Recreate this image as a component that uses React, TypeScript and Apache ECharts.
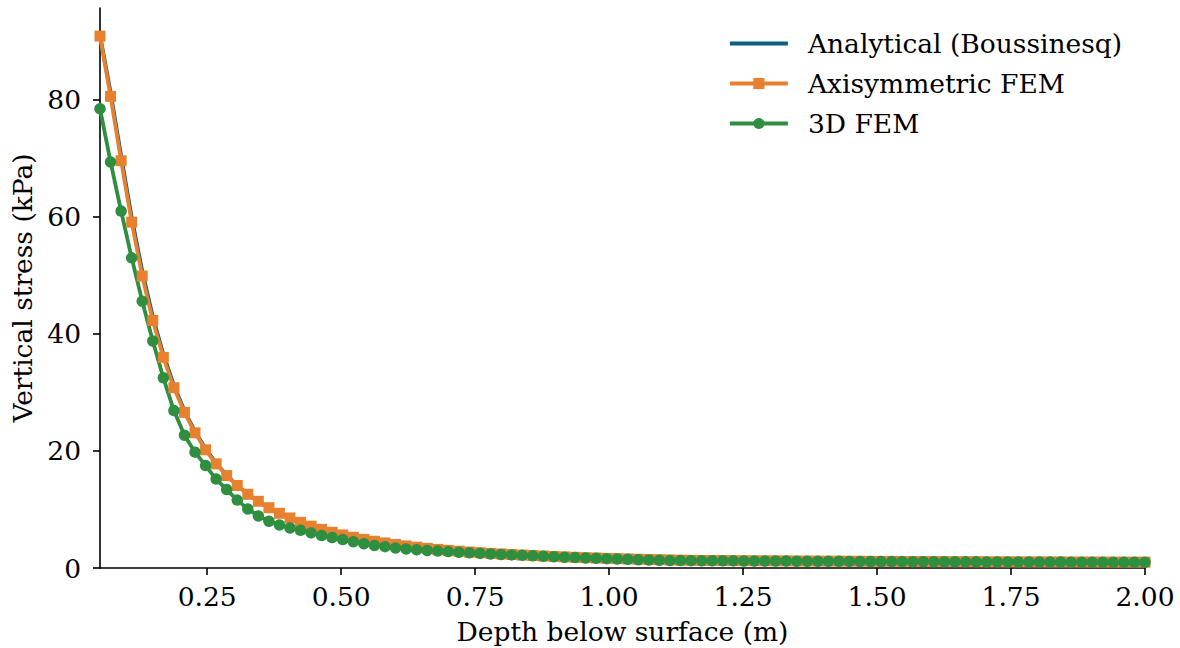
import React, { useEffect, useRef } from "react";
import * as echarts from "echarts";

const depth: number[] = [
  0.05, 0.0697, 0.0894, 0.1091, 0.1288, 0.1485, 0.1682, 0.1879, 0.2076, 0.2273,
  0.247, 0.2667, 0.2864, 0.3061, 0.3258, 0.3455, 0.3652, 0.3848, 0.4045, 0.4242,
  0.4439, 0.4636, 0.4833, 0.503, 0.5227, 0.5424, 0.5621, 0.5818, 0.6015, 0.6212,
  0.6409, 0.6606, 0.6803, 0.7, 0.7197, 0.7394, 0.7591, 0.7788, 0.7985, 0.8182,
  0.8379, 0.8576, 0.8773, 0.897, 0.9167, 0.9364, 0.9561, 0.9758, 0.9955, 1.0152,
  1.0348, 1.0545, 1.0742, 1.0939, 1.1136, 1.1333, 1.153, 1.1727, 1.1924, 1.2121,
  1.2318, 1.2515, 1.2712, 1.2909, 1.3106, 1.3303, 1.35, 1.3697, 1.3894, 1.4091,
  1.4288, 1.4485, 1.4682, 1.4879, 1.5076, 1.5273, 1.547, 1.5667, 1.5864, 1.6061,
  1.6258, 1.6455, 1.6652, 1.6848, 1.7045, 1.7242, 1.7439, 1.7636, 1.7833, 1.803,
  1.8227, 1.8424, 1.8621, 1.8818, 1.9015, 1.9212, 1.9409, 1.9606, 1.9803, 2.0,
];

const analytical: number[] = [
  91.06, 81.3, 70.39, 59.94, 50.72, 42.93, 36.49, 31.21, 26.87, 23.31,
  20.36, 17.91, 15.85, 14.11, 12.63, 11.37, 10.28, 9.34, 8.52, 7.79,
  7.16, 6.59, 6.09, 5.65, 5.25, 4.89, 4.57, 4.27, 4.01, 3.77,
  3.54, 3.34, 3.16, 2.99, 2.83, 2.69, 2.57, 2.46, 2.37, 2.28,
  2.2, 2.12, 2.05, 1.97, 1.9, 1.83, 1.77, 1.71, 1.65, 1.6,
  1.55, 1.5, 1.46, 1.42, 1.38, 1.35, 1.32, 1.3, 1.28, 1.27,
  1.26, 1.25, 1.24, 1.23, 1.22, 1.21, 1.2, 1.19, 1.18, 1.17,
  1.17, 1.16, 1.15, 1.14, 1.13, 1.13, 1.12, 1.11, 1.11, 1.1,
  1.09, 1.09, 1.08, 1.08, 1.07, 1.07, 1.06, 1.06, 1.05, 1.05,
  1.04, 1.04, 1.03, 1.03, 1.02, 1.02, 1.01, 1.01, 1.0, 1.0,
];

const axisymFEM: number[] = [
  90.9, 80.6, 69.6, 59.1, 49.9, 42.3, 36.0, 30.8, 26.6, 23.1,
  20.2, 17.8, 15.8, 14.1, 12.6, 11.4, 10.3, 9.35, 8.55, 7.8,
  7.15, 6.6, 6.1, 5.65, 5.25, 4.9, 4.57, 4.28, 4.02, 3.78,
  3.56, 3.36, 3.18, 3.02, 2.87, 2.73, 2.61, 2.5, 2.4, 2.3,
  2.21, 2.13, 2.05, 1.97, 1.9, 1.83, 1.77, 1.71, 1.65, 1.6,
  1.55, 1.5, 1.46, 1.42, 1.38, 1.34, 1.31, 1.29, 1.28, 1.27,
  1.26, 1.25, 1.24, 1.23, 1.22, 1.21, 1.2, 1.19, 1.18, 1.17,
  1.17, 1.16, 1.15, 1.14, 1.13, 1.13, 1.12, 1.11, 1.11, 1.1,
  1.09, 1.09, 1.08, 1.08, 1.07, 1.07, 1.06, 1.06, 1.05, 1.05,
  1.04, 1.04, 1.03, 1.03, 1.02, 1.02, 1.01, 1.01, 1.0, 1.0,
];

const fem3D: number[] = [
  78.5, 69.4, 61.0, 53.0, 45.6, 38.8, 32.5, 26.9, 22.7, 19.8,
  17.5, 15.2, 13.4, 11.6, 10.1, 8.9, 8.0, 7.35, 6.85, 6.45,
  6.0, 5.55, 5.2, 4.85, 4.5, 4.15, 3.85, 3.65, 3.42, 3.25,
  3.12, 3.0, 2.9, 2.8, 2.7, 2.6, 2.5, 2.4, 2.32, 2.24,
  2.16, 2.08, 2.0, 1.92, 1.85, 1.78, 1.72, 1.66, 1.6, 1.54,
  1.48, 1.42, 1.37, 1.32, 1.29, 1.27, 1.26, 1.25, 1.24, 1.23,
  1.22, 1.21, 1.2, 1.19, 1.18, 1.18, 1.17, 1.16, 1.15, 1.14,
  1.14, 1.13, 1.12, 1.11, 1.1, 1.1, 1.09, 1.08, 1.08, 1.07,
  1.06, 1.06, 1.05, 1.05, 1.04, 1.04, 1.03, 1.03, 1.02, 1.02,
  1.01, 1.01, 1.0, 1.0, 0.99, 0.99, 0.98, 0.98, 0.97, 0.97,
];

const xTicks: number[] = [0.25, 0.5, 0.75, 1.0, 1.25, 1.5, 1.75, 2.0];
const yTicks: number[] = [0, 20, 40, 60, 80];

const seriesNames = ["Analytical (Boussinesq)", "Axisymmetric FEM", "3D FEM"];
const colors = ["#0b5f7f", "#e8812f", "#2e8f40"];

const FONT = "DejaVu Serif";
const FS = 26.5;
const LW = 3.8;

export default function App() {
  const ref = useRef<HTMLDivElement>(null);

  useEffect(() => {
    if (!ref.current) return;
    const chart = echarts.init(ref.current, undefined, { renderer: "svg" });
    const pair = (ys: number[]) => depth.map((x, i) => [x, ys[i]]);
    chart.setOption({
      animation: false,
      textStyle: { fontFamily: FONT },
      grid: { left: 100, right: 35, top: 8, bottom: 80, outerBoundsMode: "none" },
      legend: {
        orient: "vertical",
        left: 723,
        top: 25,
        itemWidth: 58,
        itemHeight: 14,
        itemGap: 13,
        lineStyle: { width: LW },
        textStyle: { fontFamily: FONT, fontSize: FS, color: "#000", padding: [0, 0, 0, 15] },
        data: [
          { name: seriesNames[0], itemStyle: { opacity: 0 } },
          { name: seriesNames[1] },
          { name: seriesNames[2] },
        ],
      },
      xAxis: {
        type: "value",
        min: 0.05,
        max: 2.0,
        name: "Depth below surface (m)",
        nameLocation: "middle",
        nameGap: 50,
        nameTextStyle: { fontFamily: FONT, fontSize: FS, color: "#000" },
        axisLine: { show: true, lineStyle: { color: "#000", width: 1.6 } },
        axisTick: { show: true, length: 7, lineStyle: { color: "#000", width: 1.6 }, customValues: xTicks },
        axisLabel: {
          customValues: xTicks,
          formatter: (v: number) => v.toFixed(2),
          fontFamily: FONT,
          fontSize: FS,
          color: "#000",
          margin: 15,
        },
        splitLine: { show: false },
      },
      yAxis: {
        type: "value",
        min: 0,
        max: 95.7,
        name: "Vertical stress (kPa)",
        nameLocation: "middle",
        nameGap: 62,
        nameTextStyle: { fontFamily: FONT, fontSize: FS, color: "#000" },
        axisLine: { show: true, lineStyle: { color: "#000", width: 1.6 } },
        axisTick: { show: true, length: 7, lineStyle: { color: "#000", width: 1.6 }, customValues: yTicks },
        axisLabel: {
          customValues: yTicks,
          formatter: (v: number) => String(v),
          fontFamily: FONT,
          fontSize: FS,
          color: "#000",
          margin: 19,
        },
        splitLine: { show: false },
      },
      series: [
        {
          name: seriesNames[0],
          type: "line",
          data: pair(analytical),
          symbol: "none",
          lineStyle: { color: colors[0], width: LW },
          itemStyle: { color: colors[0] },
        },
        {
          name: seriesNames[1],
          type: "line",
          data: pair(axisymFEM),
          symbol: "rect",
          symbolSize: 11,
          showAllSymbol: true,
          lineStyle: { color: colors[1], width: LW },
          itemStyle: { color: colors[1] },
        },
        {
          name: seriesNames[2],
          type: "line",
          data: pair(fem3D),
          symbol: "circle",
          symbolSize: 11.5,
          showAllSymbol: true,
          lineStyle: { color: colors[2], width: LW },
          itemStyle: { color: colors[2] },
        },
      ],
    });
    return () => chart.dispose();
  }, []);

  return (
    <div
      ref={ref}
      style={{ position: "fixed", left: 0, top: 0, width: 1180, height: 648, background: "#fff" }}
    />
  );
}
